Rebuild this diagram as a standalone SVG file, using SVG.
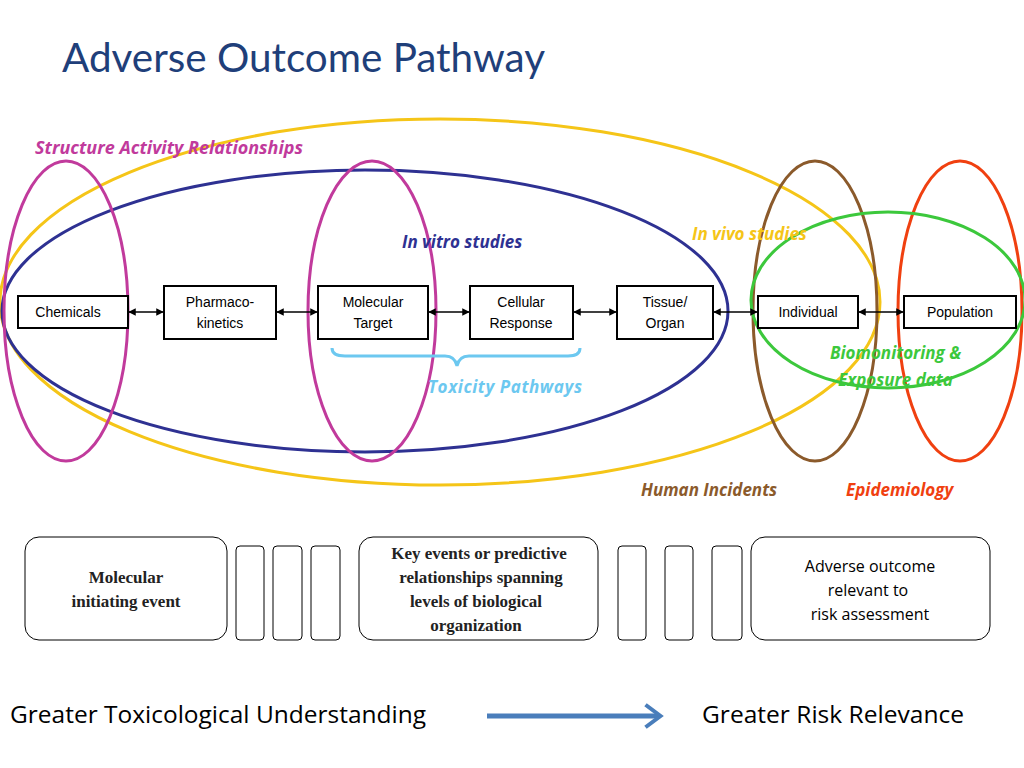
<svg xmlns="http://www.w3.org/2000/svg" width="1024" height="768" viewBox="0 0 1024 768">
<style>
.b{fill:#fff;stroke:#000;stroke-width:2}
.bt{font-family:"Liberation Sans",sans-serif;font-size:14px;text-anchor:middle}
.e{fill:none;stroke-width:3}
.lab{font-family:"Open Sans",sans-serif;font-size:17px;font-weight:bold;font-style:italic}
.rr{fill:#fff;stroke:#000;stroke-width:1}
.ser{font-family:"Liberation Serif",serif;font-size:17px;font-weight:bold;text-anchor:middle;fill:#222}
.big{font-family:"Open Sans",sans-serif;font-size:23px}
</style>
<defs>
<marker id="a" viewBox="0 0 10 10" refX="9" refY="5" markerWidth="5" markerHeight="5" orient="auto-start-reverse"><path d="M0,0L10,5L0,10z" fill="#000"/></marker>
<marker id="ba" viewBox="0 0 10 10" refX="6" refY="5" markerWidth="5" markerHeight="6" orient="auto"><path d="M1,0.5L7,5L1,9.5" fill="none" stroke="#4a7ebb" stroke-width="1.6"/></marker>
</defs>
<rect width="1024" height="768" fill="#fff"/>
<text x="62" y="72" font-family="Lato,sans-serif" font-size="40" fill="#1f3f7a" textLength="483" lengthAdjust="spacingAndGlyphs">Adverse Outcome Pathway</text>
<g id="ellipses">
<ellipse class="e" cx="440" cy="302" rx="440" ry="183" stroke="#f5c518"/>
<ellipse class="e" cx="365" cy="311" rx="363" ry="141" stroke="#2e3192"/>
<ellipse class="e" cx="66" cy="311" rx="62" ry="150" stroke="#c13a9c"/>
<ellipse class="e" cx="372" cy="311" rx="64" ry="150" stroke="#c13a9c"/>
<ellipse class="e" cx="815" cy="311" rx="62" ry="150" stroke="#8b5a2b"/>
<ellipse class="e" cx="960" cy="311" rx="62" ry="150" stroke="#f04010"/>
<ellipse class="e" cx="888" cy="300" rx="137" ry="88" stroke="#3cc83c"/>
<path d="M332,348 Q332,356 345,356 L445,356 Q455,356 457,366 Q459,356 469,356 L568,356 Q580,356 580,348" fill="none" stroke="#6cc8f0" stroke-width="3"/>
</g>
<g id="labels">
<text class="lab" x="35" y="154" fill="#c13a9c" textLength="268" lengthAdjust="spacingAndGlyphs">Structure Activity Relationships</text>
<text class="lab" x="402" y="248" fill="#2e3192">In vitro studies</text>
<text class="lab" x="692" y="240" fill="#f5c518">In vivo studies</text>
<text class="lab" x="830" y="359" fill="#3cc83c">Biomonitoring &amp;</text>
<text class="lab" x="838" y="386" fill="#3cc83c">Exposure data</text>
<text class="lab" x="428" y="393" fill="#6cc8f0" textLength="154">Toxicity Pathways</text>
<text class="lab" x="641" y="496" fill="#8b5a2b">Human Incidents</text>
<text class="lab" x="846" y="496" fill="#f04010">Epidemiology</text>
</g>
<g id="connectors" stroke="#000" stroke-width="1.5" marker-start="url(#a)" marker-end="url(#a)">
<line x1="129" y1="312" x2="163" y2="312"/>
<line x1="277" y1="312" x2="317" y2="312"/>
<line x1="429" y1="312" x2="469" y2="312"/>
<line x1="574" y1="312" x2="616" y2="312"/>
<line x1="714" y1="312" x2="757" y2="312"/>
<line x1="859" y1="312" x2="903" y2="312"/>
</g>
<g id="chemicals"><rect class="b" x="18" y="296" width="110" height="32"/><text class="bt" x="68" y="317">Chemicals</text></g>
<g id="pk"><rect class="b" x="164" y="286" width="112" height="53"/><text class="bt" x="220" y="307">Pharmaco-</text><text class="bt" x="220" y="328">kinetics</text></g>
<g id="mt"><rect class="b" x="318" y="286" width="110" height="53"/><text class="bt" x="373" y="307">Molecular</text><text class="bt" x="373" y="328">Target</text></g>
<g id="cr"><rect class="b" x="470" y="286" width="103" height="53"/><text class="bt" x="521" y="307">Cellular</text><text class="bt" x="521" y="328">Response</text></g>
<g id="to"><rect class="b" x="617" y="286" width="96" height="53"/><text class="bt" x="665" y="307">Tissue/</text><text class="bt" x="665" y="328">Organ</text></g>
<g id="ind"><rect class="b" x="758" y="296" width="100" height="32"/><text class="bt" x="808" y="317">Individual</text></g>
<g id="pop"><rect class="b" x="904" y="296" width="112" height="32"/><text class="bt" x="960" y="317">Population</text></g>
<g id="bottom">
<rect class="rr" x="25" y="537" width="202" height="103" rx="14"/>
<text class="ser" x="126" y="583">Molecular</text><text class="ser" x="126" y="607">initiating event</text>
<rect class="rr" x="236" y="546" width="28" height="94" rx="4"/>
<rect class="rr" x="273" y="546" width="29" height="94" rx="4"/>
<rect class="rr" x="311" y="546" width="29" height="94" rx="4"/>
<rect class="rr" x="359" y="537" width="239" height="103" rx="14"/>
<text class="ser" x="479" y="559">Key events or predictive</text><text class="ser" x="481" y="583">relationships spanning</text><text class="ser" x="476" y="607">levels of biological</text><text class="ser" x="476" y="631">organization</text>
<rect class="rr" x="618" y="546" width="28" height="94" rx="4"/>
<rect class="rr" x="665" y="546" width="28" height="94" rx="4"/>
<rect class="rr" x="712" y="546" width="30" height="94" rx="4"/>
<rect class="rr" x="751" y="537" width="239" height="103" rx="14"/>
<text class="bt" x="870" y="572" style="font-family:'Open Sans',sans-serif;font-size:16px">Adverse outcome</text>
<text class="bt" x="868" y="596" style="font-family:'Open Sans',sans-serif;font-size:16px">relevant to</text>
<text class="bt" x="870" y="620" style="font-family:'Open Sans',sans-serif;font-size:16px">risk assessment</text>
</g>
<text class="big" x="10" y="723" textLength="416" lengthAdjust="spacingAndGlyphs">Greater Toxicological Understanding</text>
<text class="big" x="702" y="723" textLength="262" lengthAdjust="spacingAndGlyphs">Greater Risk Relevance</text>
<line x1="487" y1="716" x2="658" y2="716" stroke="#4a7ebb" stroke-width="5" marker-end="url(#ba)"/>
</svg>
